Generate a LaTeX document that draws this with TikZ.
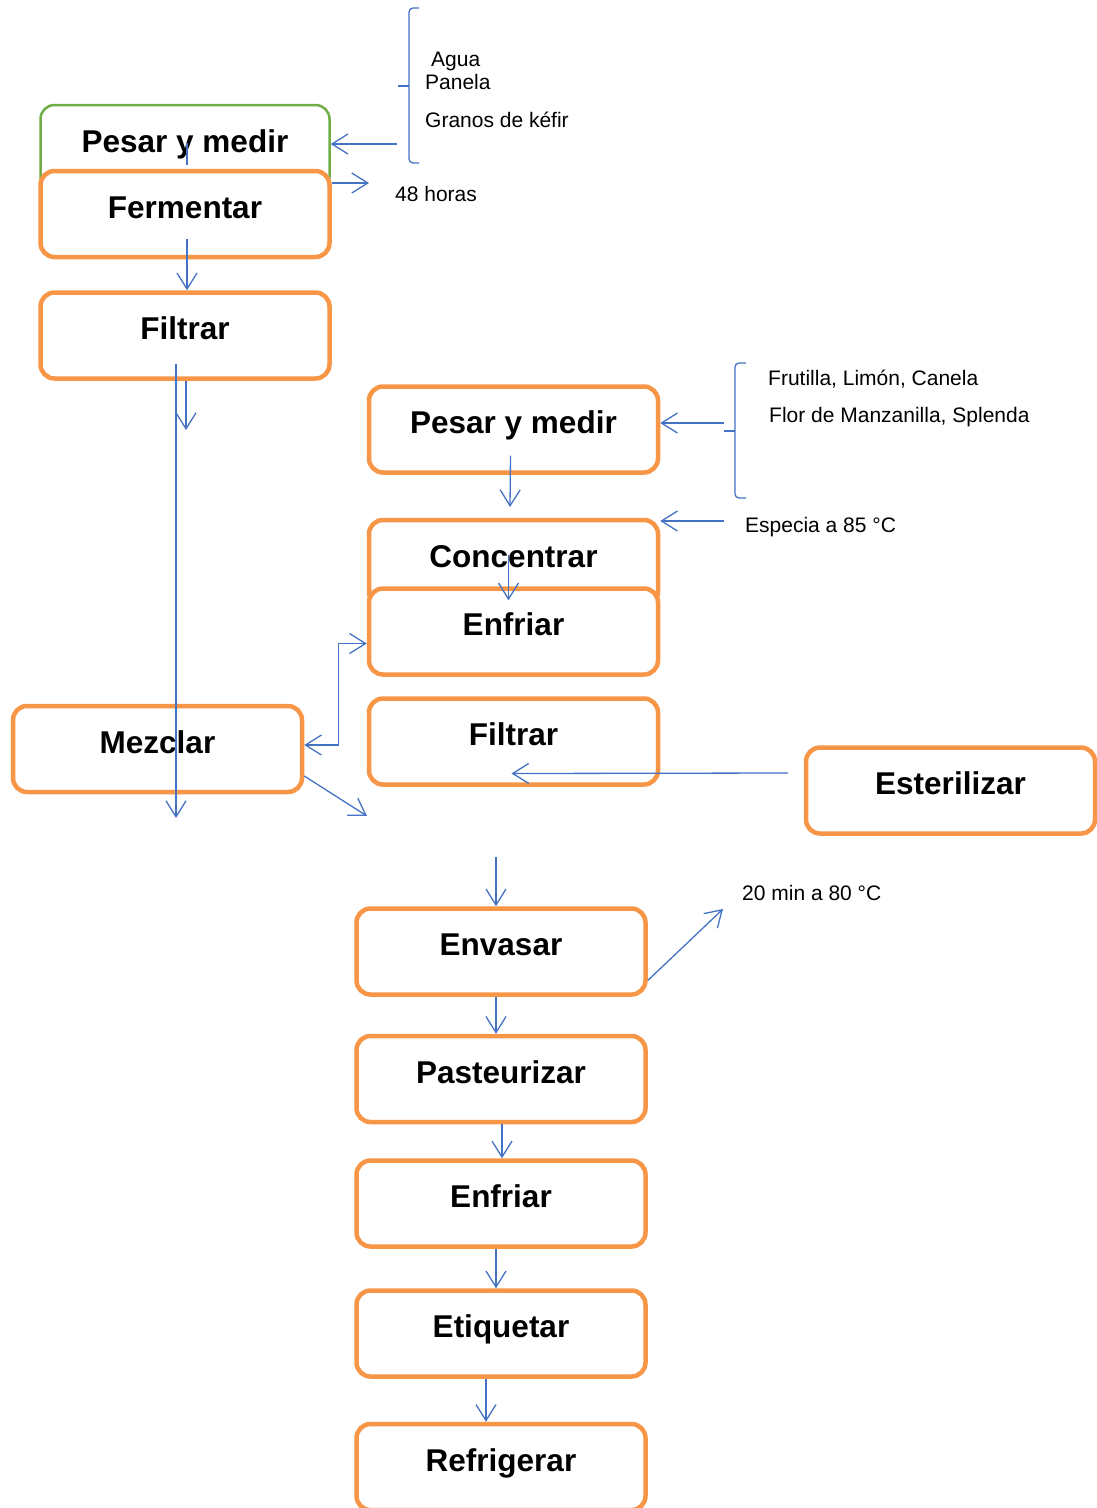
\documentclass[tikz,border=0pt]{standalone}
\usepackage{fontspec}
\setmainfont{Liberation Sans}
\usetikzlibrary{arrows.meta,calc}
\definecolor{orangeB}{RGB}{247,150,70}
\definecolor{greenB}{RGB}{112,173,71}
\definecolor{blueL}{RGB}{68,114,196}
\begin{document}
\begin{tikzpicture}[x=1pt,y=-1pt,
  box/.style={draw=orangeB, line width=4.5pt, rounded corners=14pt, fill=white,
    minimum width=289pt, inner sep=0pt, text height=47pt, text depth=39pt,
    font=\fontsize{31.5}{36}\selectfont\bfseries},
  gbox/.style={box, draw=greenB, line width=2.5pt},
  lbl/.style={anchor=base west, inner sep=0pt, font=\fontsize{21}{25}\selectfont},
  ln/.style={draw=blueL, line width=1.3pt},
  arr/.style={ln, -{Straight Barb[length=16pt,width=20pt,line width=1.3pt]}},
  darr/.style={ln, {Straight Barb[length=16pt,width=20pt,line width=1.3pt]}-{Straight Barb[length=16pt,width=20pt,line width=1.3pt]}},
  brace/.style={ln, rounded corners=4pt}]
\useasboundingbox (0,0) rectangle (1096,1508);

% boxes
\node[gbox] (g1) at (185,148) {Pesar y medir};
\node[box] (ferm) at (185,214) {Fermentar};
\node[box] (filt1) at (185,335.5) {Filtrar};
\node[box] (pes2) at (513.5,429.5) {Pesar y medir};
\node[box] (conc) at (513.5,563) {Concentrar};
\node[box] (enf1) at (513.5,631.5) {Enfriar};
\node[box] (filt2) at (513.5,741.5) {Filtrar};
\node[box] (mez) at (157.5,749) {Mezclar};
\node[box] (est) at (950.5,790.5) {Esterilizar};
\node[box] (env) at (501,951.5) {Envasar};
\node[box] (past) at (501,1079) {Pasteurizar};
\node[box] (enf2) at (501,1203.5) {Enfriar};
\node[box] (etiq) at (501,1333.5) {Etiquetar};
\node[box] (refr) at (501,1467) {Refrigerar};

% labels
\node[lbl] (tA) at (431,66) {Agua};
\node[lbl] (tP) at (425,89) {Panela};
\node[lbl] (tG) at (425,127) {Granos de kéfir};
\node[lbl] (t48) at (395,201) {48 horas};
\node[lbl] (tF) at (768,385) {Frutilla, Limón, Canela};
\node[lbl] (tM) at (769,422) {Flor de Manzanilla, Splenda};
\node[lbl] (tE) at (745,532) {Especia a 85 °C};
\node[lbl] (t20) at (742,900) {20 min a 80 °C};

% braces
\draw[brace] (419,8) -- (409,8) -- (409,163) -- (419,163);
\draw[brace] (409,86) -- (398,86);
\draw[brace] (746,363) -- (735,363) -- (735,498) -- (746,498);
\draw[brace] (735,431) -- (724,431);

% free coordinates
\coordinate (c1) at (397,144);
\coordinate (c2) at (369,183);
\coordinate (c5) at (186,430);
\coordinate (c6) at (176,818);
\coordinate (c7) at (510,507);
\coordinate (c8) at (724,423);
\coordinate (c9) at (724,521);
\coordinate (c12) at (367,816);
\coordinate (c13) at (788,773);
\coordinate (c14) at (496,857);
\coordinate (c15) at (723,909);

% connectors
\draw[arr] (c1) -- (c1 -| g1.east);
\draw[arr] (ferm.east |- c2) -- (c2);
\draw[ln] ($(g1.center)+(2,-5)$) -- ($(ferm.north)+(2,-4)$);
\draw[arr] ($(ferm.center)+(2,25)$) -- ($(filt1.north)+(2,0)$);
\draw[arr] ($(filt1.south)+(1,0)$) -- (c5);
\draw[arr] ($(filt1.center)+(-9,28)$) -- (c6);
\draw[arr] ($(pes2.center)+(-3,26)$) -- (c7);
\draw[arr] (c8) -- (c8 -| pes2.east);
\draw[arr] (c9) -- (c9 -| conc.east);
\draw[arr] ($(conc.center)+(-5,-8)$) -- ($(enf1.north)+(-5,14)$);
\draw[darr] ($(mez.east)+(0,-4)$) -- ++(34,0) |- ($(enf1.west)+(0,12)$);
\draw[arr] ($(mez.east)+(0,27)$) -- (c12);
\draw[arr] (c13) -- ($(filt2.center)+(-2,32)$);
\draw[arr] (c14) -- ($(env.north)+(-5,0)$);
\draw[arr] ($(env.east)+(0,29)$) -- (c15);
\draw[arr] ($(env.south)+(-5,0)$) -- ($(past.north)+(-5,0)$);
\draw[arr] ($(past.south)+(1,0)$) -- ($(enf2.north)+(1,0)$);
\draw[arr] ($(enf2.south)+(-5,0)$) -- ($(etiq.north)+(-5,0)$);
\draw[arr] ($(etiq.south)+(-15,0)$) -- ($(refr.north)+(-15,0)$);
\end{tikzpicture}
\end{document}
